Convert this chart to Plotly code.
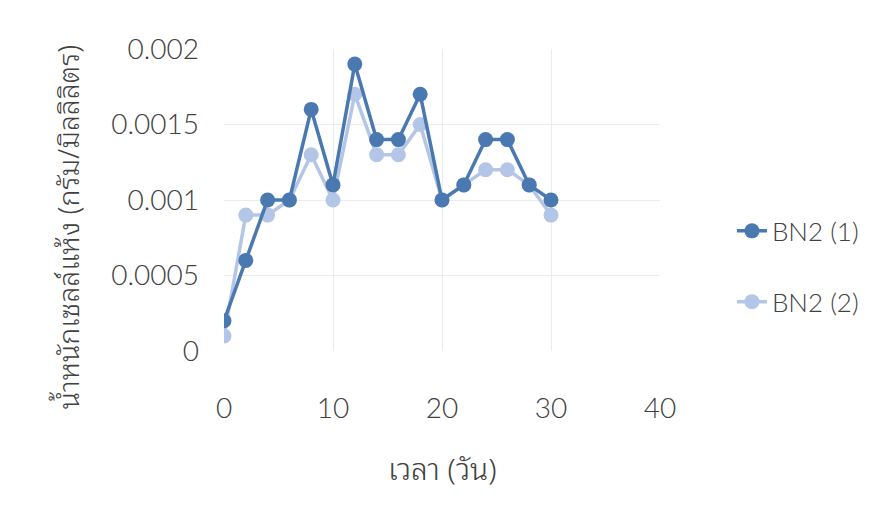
import plotly.graph_objects as go

days = [0, 2, 4, 6, 8, 10, 12, 14, 16, 18, 20, 22, 24, 26, 28, 30]
bn2_1 = [0.0002, 0.0006, 0.001, 0.001, 0.0016, 0.0011, 0.0019, 0.0014,
         0.0014, 0.0017, 0.001, 0.0011, 0.0014, 0.0014, 0.0011, 0.001]
bn2_2 = [0.0001, 0.0009, 0.0009, 0.001, 0.0013, 0.001, 0.0017, 0.0013,
         0.0013, 0.0015, 0.001, 0.0011, 0.0012, 0.0012, 0.0011, 0.0009]
series_names = ["BN2 (1)", "BN2 (2)"]
x_ticks = [0, 10, 20, 30, 40]
y_ticks = [0, 0.0005, 0.001, 0.0015, 0.002]
y_tick_text = ["0", "0.0005", "0.001", "0.0015", "0.002"]

FONT = "Lato, 'Noto Sans', sans-serif"
THAI_FONT = ("'Noto Sans Thai Looped', 'Noto Sans Thai', 'Noto Serif Thai', "
             "Loma, Garuda, Sarabun, Lato, sans-serif")
TEXT = "#404040"
LIGHT = 300

fig = go.Figure()
# light series drawn first, dark series on top
fig.add_trace(go.Scatter(
    x=days, y=bn2_2, name=series_names[1], mode="lines+markers",
    line=dict(color="#b4c6e7", width=3.5), marker=dict(size=15, color="#b4c6e7"),
    legendgroup="b", legendrank=2,
))
fig.add_trace(go.Scatter(
    x=days, y=bn2_1, name=series_names[0], mode="lines+markers",
    line=dict(color="#4a78b0", width=3.5), marker=dict(size=15, color="#4a78b0"),
    legendgroup="a", legendrank=1,
))

fig.update_layout(
    width=877, height=520,
    margin=dict(l=224, r=217, t=49, b=169),
    paper_bgcolor="white", plot_bgcolor="white",
    font=dict(family=FONT, size=26, color=TEXT),
    showlegend=True,
    legend=dict(x=1.165, y=0.28, xanchor="left", yanchor="middle",
                tracegroupgap=34, font=dict(size=26, color=TEXT, weight=LIGHT),
                bgcolor="rgba(0,0,0,0)"),
    xaxis=dict(range=[0, 40], tickvals=x_ticks, showgrid=True,
               gridcolor="#ececec", gridwidth=1, zeroline=False,
               showline=False, ticks="", ticklabelstandoff=38,
               tickfont=dict(size=28, color=TEXT, weight=LIGHT)),
    yaxis=dict(range=[0, 0.002], tickvals=y_ticks, ticktext=y_tick_text,
               showgrid=True, gridcolor="#ececec", gridwidth=1,
               zeroline=False, showline=False, ticks="",
               ticklabelstandoff=24, tickfont=dict(size=28, color=TEXT, weight=LIGHT)),
    annotations=[
        dict(text="น้ำหนักเซลล์แห้ง (กรัม/มิลลิลิตร)", xref="paper", yref="paper",
             x=-0.362, y=0.41, xanchor="center", yanchor="middle",
             textangle=-90, showarrow=False,
             font=dict(family=THAI_FONT, size=28.5, color=TEXT, weight=LIGHT)),
        dict(text="เวลา (วัน)", xref="paper", yref="paper",
             x=0.5, y=-0.384, xanchor="center", yanchor="middle",
             showarrow=False,
             font=dict(family=THAI_FONT, size=30, color=TEXT, weight=LIGHT)),
    ],
)

fig.write_html("out.html")
